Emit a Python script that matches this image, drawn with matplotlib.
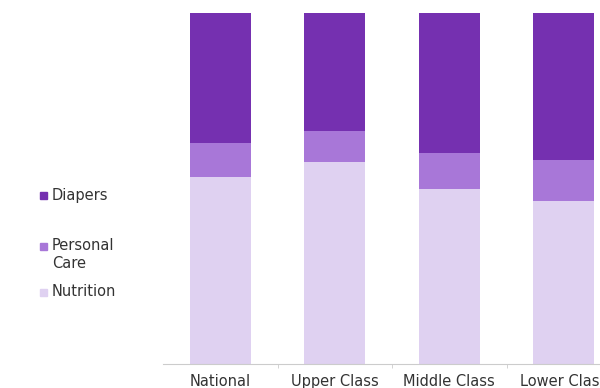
import numpy as np
import matplotlib
matplotlib.use("Agg")
import matplotlib.pyplot as plt
from matplotlib.patches import Rectangle

categories = ["National", "Upper Class", "Middle Class", "Lower Class"]
nutrition = [53.2, 57.5, 49.9, 46.4]
personal_care = [9.9, 8.8, 10.3, 11.6]
diapers = [36.9, 33.7, 39.8, 42.0]

legend_labels = ["Diapers", "Personal\nCare", "Nutrition"]
colors = ["#7530b0", "#a877d8", "#dfd1f1"]

plt.rcParams['font.family'] = ['DejaVu Sans']

fig = plt.figure(figsize=(6, 3.88), dpi=100)
ax = fig.add_axes([163/600, 24/388, 458/600, 351/388])

x = np.arange(len(categories))
w = 0.535
ax.bar(x, nutrition, w, color=colors[2])
ax.bar(x, personal_care, w, bottom=nutrition, color=colors[1])
bottom2 = np.array(nutrition) + np.array(personal_care)
ax.bar(x, diapers, w, bottom=bottom2, color=colors[0])

ax.set_xlim(-0.5, len(categories) - 0.5)
ax.set_ylim(0, 100)
for s in ["top", "right", "left"]:
    ax.spines[s].set_visible(False)
ax.spines["bottom"].set_color("#cccccc")
ax.set_yticks([])
ax.set_xticks(x)
ax.set_xticklabels(categories, fontsize=10.5, color="#333333")
ax.tick_params(axis="x", which="major", length=0, pad=7)
ax.set_xticks(x[:-1] + 0.5, minor=True)
ax.tick_params(axis="x", which="minor", length=3, color="#cccccc")

# legend on the left
leg_y = [196, 246, 292]
for lab, col, yy in zip(legend_labels, colors, leg_y):
    fig.patches.append(Rectangle((40/600, 1 - (yy + 3.5)/388), 7/600, 7/388,
                                 transform=fig.transFigure, color=col))
    fig.text(52/600, 1 - (yy - 8)/388, lab, fontsize=10.5, color="#333333",
             va="top", ha="left", linespacing=1.25)

fig.savefig("out.png", dpi=100)
